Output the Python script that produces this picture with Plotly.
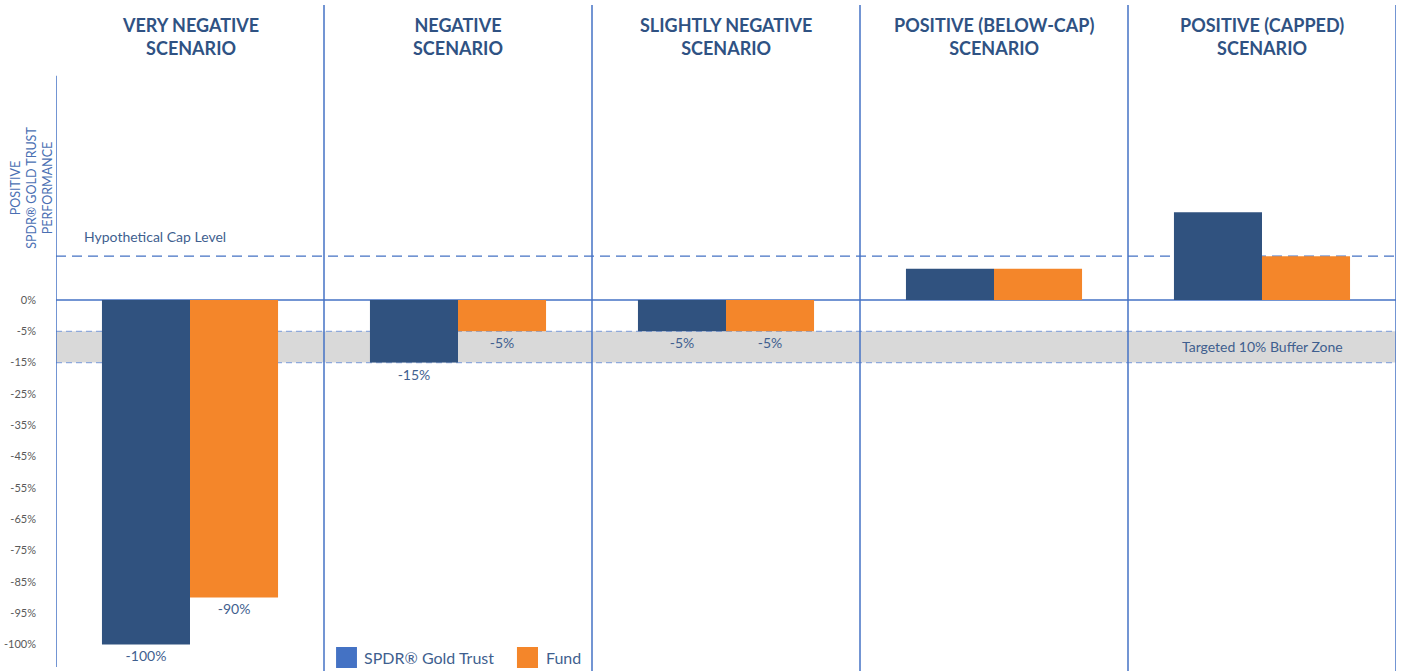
import numpy as np
import plotly.graph_objects as go

# ---------------- data ----------------
categories = ["VERY NEGATIVE<br>SCENARIO", "NEGATIVE<br>SCENARIO", "SLIGHTLY NEGATIVE<br>SCENARIO",
              "POSITIVE (BELOW-CAP)<br>SCENARIO", "POSITIVE (CAPPED)<br>SCENARIO"]
spdr_values = [-100, -15, -5, 10, 28]
fund_values = [-90, -5, -5, 10, 14]
spdr_labels = ["-100%", "-15%", "-5%", "", ""]
fund_labels = ["-90%", "-5%", "-5%", "", ""]
tick_values = [0, -5, -15, -25, -35, -45, -55, -65, -75, -85, -95, -100]
tick_labels = ["0%", "-5%", "-15%", "-25%", "-35%", "-45%", "-55%", "-65%", "-75%", "-85%", "-95%", "-100%"]
cap_level = 14
buffer_top = -5
buffer_bottom = -15
positive_step = 10  # % per axis unit on positive side

# --------------- scale (chart uses evenly spaced, non-linear tick steps) -------------
_neg_vals = np.array(tick_values[::-1], dtype=float)          # increasing
_neg_pos = -np.arange(len(tick_values), dtype=float)[::-1]    # matching positions


def ypos(v):
    v = np.asarray(v, dtype=float)
    return np.where(v >= 0, v / positive_step, np.interp(v, _neg_vals, _neg_pos))


tick_pos = list(ypos(tick_values))

NAVY = "#30527F"
ORANGE = "#F4862A"
LINE = "#4472C4"
TXT = "#3F5F8F"
HEAD = "#2F5283"
FONT = "Lato"

fig = go.Figure()
fig.add_trace(go.Bar(x=categories, y=ypos(spdr_values), name="SPDR® Gold Trust",
                     marker=dict(color=NAVY, line=dict(width=0)),
                     text=spdr_labels, textposition="outside", cliponaxis=False,
                     textfont=dict(size=14, color=TXT, family=FONT), hoverinfo="skip"))
fig.add_trace(go.Bar(x=categories, y=ypos(fund_values), name="Fund",
                     marker=dict(color=ORANGE, line=dict(width=0)),
                     text=fund_labels, textposition="outside", cliponaxis=False,
                     textfont=dict(size=14, color=TXT, family=FONT), hoverinfo="skip"))

y_cap = float(ypos(cap_level))
y_bt = float(ypos(buffer_top))
y_bb = float(ypos(buffer_bottom))

shapes = []
# buffer zone
shapes.append(dict(type="rect", xref="x", yref="y", x0=-0.5, x1=4.5, y0=y_bb, y1=y_bt,
                   fillcolor="#D9D9D9", line=dict(width=0), layer="below"))
for yy in (y_bt, y_bb):
    shapes.append(dict(type="line", xref="x", yref="y", x0=-0.5, x1=4.5, y0=yy, y1=yy,
                       line=dict(color="#8EA9DB", width=1.2, dash="6px,4px"), layer="below"))
# cap level
shapes.append(dict(type="line", xref="x", yref="y", x0=-0.5, x1=4.5, y0=y_cap, y1=y_cap,
                   line=dict(color=LINE, width=1.3, dash="10px,6px"), layer="below"))
# zero line
shapes.append(dict(type="line", xref="x", yref="y", x0=-0.5, x1=4.5, y0=0, y1=0,
                   line=dict(color=LINE, width=1.3), layer="below"))
# dividers
for i in range(5):
    shapes.append(dict(type="line", xref="x", yref="paper", x0=i + 0.5, x1=i + 0.5, y0=-0.01, y1=1.0,
                       line=dict(color=LINE, width=1.5)))
# left axis line
shapes.append(dict(type="line", xref="x", yref="paper", x0=-0.5, x1=-0.5, y0=0.0, y1=0.893,
                   line=dict(color=LINE, width=1.5)))
# custom legend swatches
shapes.append(dict(type="rect", xref="paper", yref="paper", x0=0.209, x1=0.2246, y0=-0.0015, y1=0.0302,
                   fillcolor="#4472C4", line=dict(width=0)))
shapes.append(dict(type="rect", xref="paper", yref="paper", x0=0.344, x1=0.3597, y0=-0.0015, y1=0.0302,
                   fillcolor=ORANGE, line=dict(width=0)))

annotations = []
for c in categories:
    annotations.append(dict(x=c, xref="x", y=0.953, yref="paper", text="<b>" + c.replace("<br>", "</b><br><b>") + "</b>",
                            showarrow=False, xanchor="center", yanchor="middle",
                            font=dict(size=18, color=HEAD, family=FONT)))
annotations.append(dict(x=-0.018, xref="paper", y=0.7236, yref="paper",
                        text="POSITIVE<br>SPDR® GOLD TRUST<br>PERFORMANCE", textangle=-90,
                        showarrow=False, xanchor="center", yanchor="middle",
                        font=dict(size=12.5, color="#4A6FB3", family=FONT)))
annotations.append(dict(x=0.0194, xref="paper", y=y_cap, yref="y", yshift=20,
                        text="Hypothetical Cap Level", showarrow=False, xanchor="left", yanchor="middle",
                        font=dict(size=14, color=TXT, family=FONT)))
annotations.append(dict(x=categories[4], xref="x", y=(y_bt + y_bb) / 2, yref="y",
                        text="Targeted 10% Buffer Zone", showarrow=False, xanchor="center", yanchor="middle",
                        font=dict(size=14, color=TXT, family=FONT)))
annotations.append(dict(x=0.2284, xref="paper", y=0.0151, yref="paper", text="SPDR® Gold Trust",
                        showarrow=False, xanchor="left", yanchor="middle",
                        font=dict(size=16, color=TXT, family=FONT)))
annotations.append(dict(x=0.3642, xref="paper", y=0.0151, yref="paper", text="Fund",
                        showarrow=False, xanchor="left", yanchor="middle",
                        font=dict(size=16, color=TXT, family=FONT)))

fig.update_layout(
    width=1403, height=671,
    margin=dict(l=56, r=7, t=5, b=4),
    paper_bgcolor="white", plot_bgcolor="white",
    barmode="group", bargap=0.343, bargroupgap=0,
    showlegend=False,
    font=dict(family=FONT),
    shapes=shapes, annotations=annotations,
    xaxis=dict(range=[-0.5, 4.5], showticklabels=False, showgrid=False, zeroline=False,
               showline=False, ticks="", fixedrange=True),
    yaxis=dict(range=[-11.72, 9.42], tickvals=tick_pos, ticktext=tick_labels,
               showgrid=False, zeroline=False, showline=False, ticks="",
               ticklabelstandoff=19, tickfont=dict(size=11, color="#595959", family=FONT),
               fixedrange=True),
)

fig.write_html("out.html", config={"displayModeBar": False},
               post_script="document.body.style.margin='0';document.body.style.overflow='hidden';")
